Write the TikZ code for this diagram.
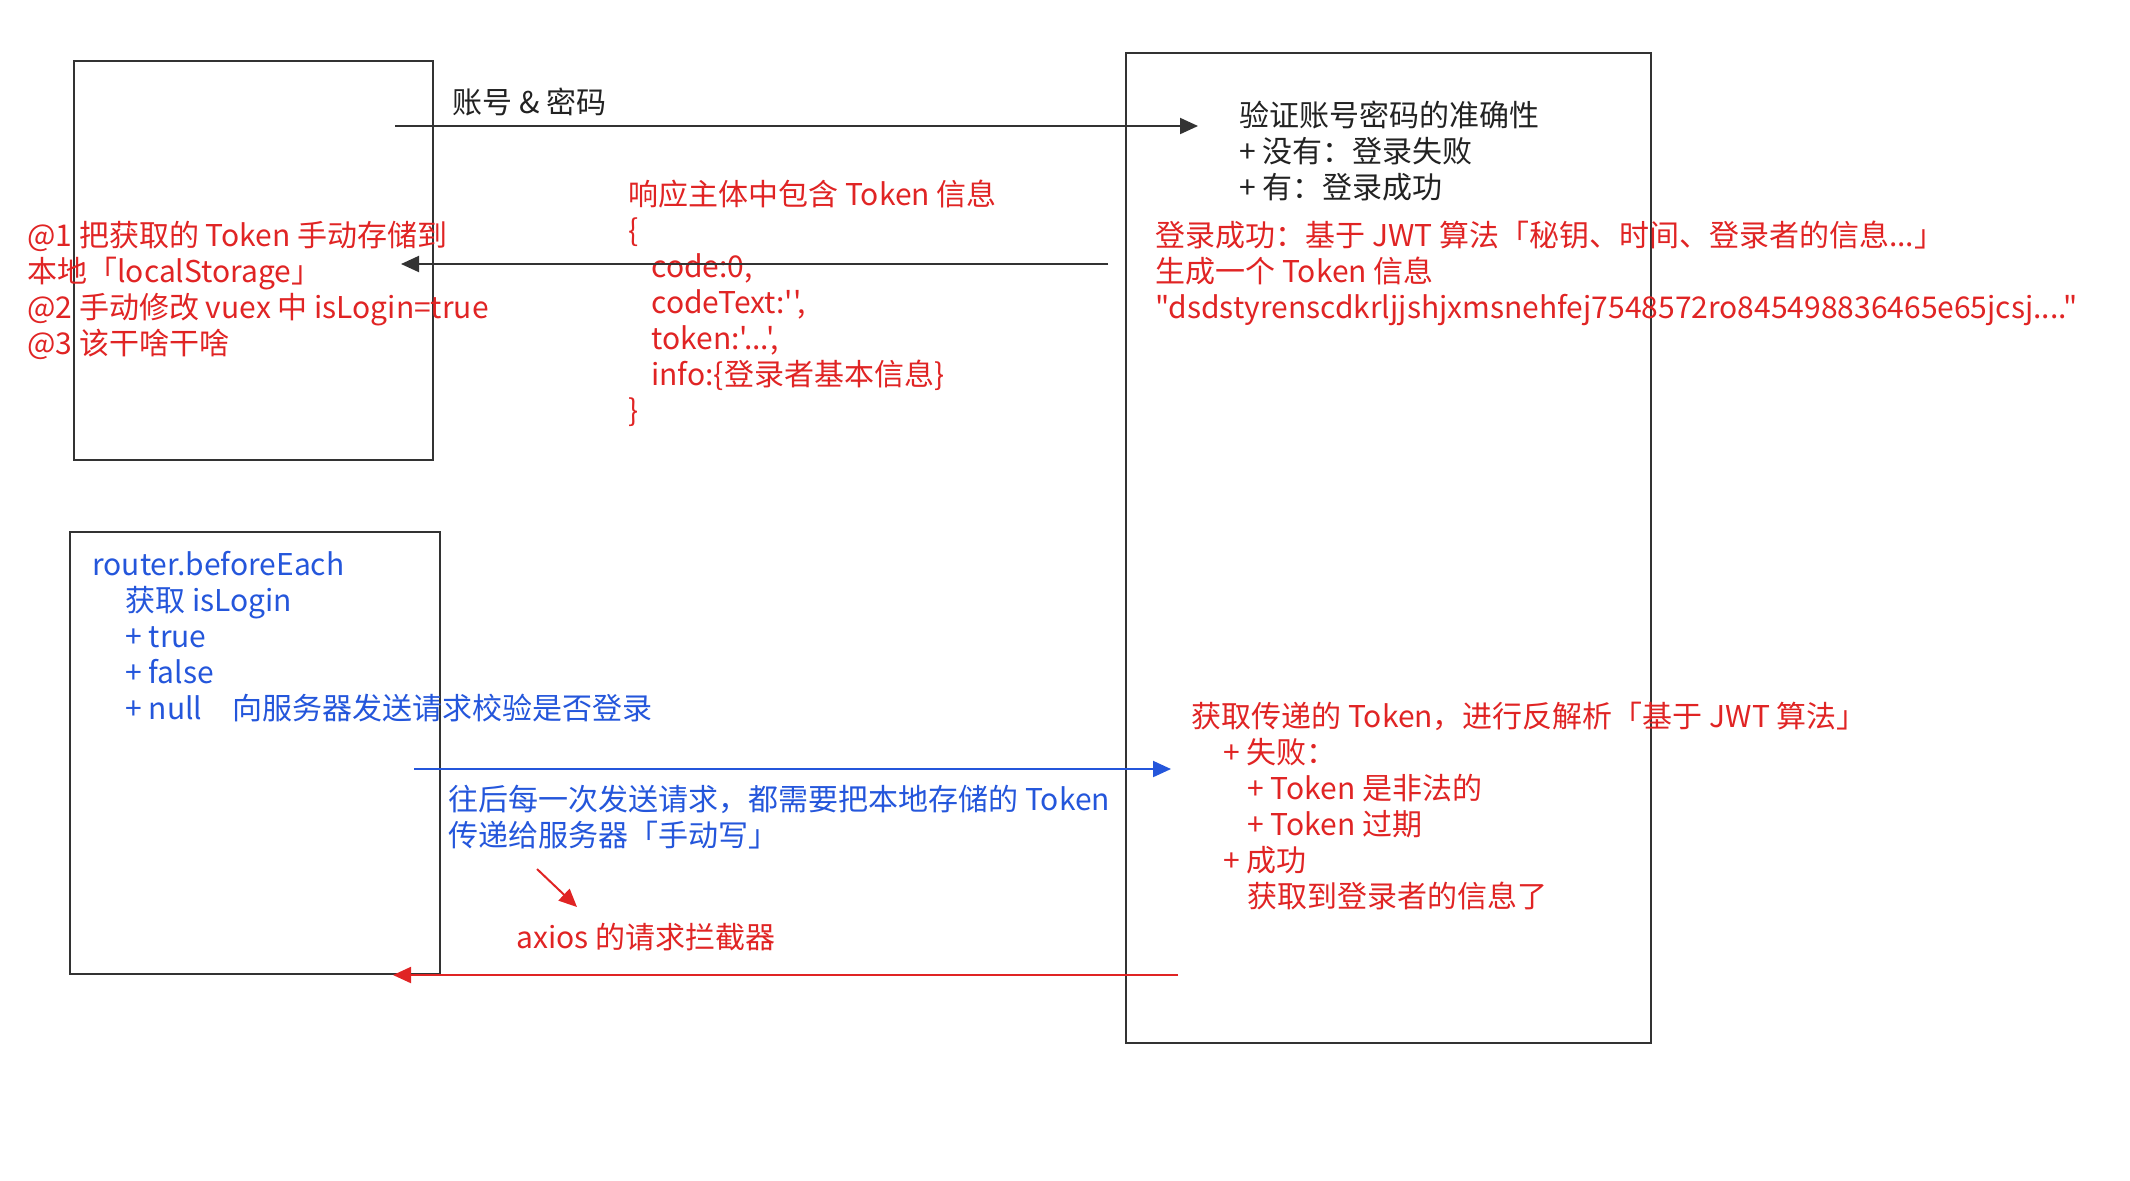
\documentclass[tikz,border=0pt]{standalone}
\usepackage{fontspec}
\setmainfont{Noto Sans CJK SC}[Ligatures=TeXOff]
\usetikzlibrary{arrows.meta}
\definecolor{rd}{HTML}{E02424}
\definecolor{bl}{HTML}{2456DB}
\definecolor{ln}{HTML}{333333}
\definecolor{tx}{HTML}{222222}
\begin{document}
\begin{tikzpicture}[x=0.5pt,y=-0.5pt,
 box/.style={draw=ln,line width=0.9pt,inner sep=0pt,anchor=north west},
 txt/.style={inner sep=0pt,anchor=north west,align=left,font=\fontsize{15}{18}\selectfont,execute at begin node=\strut},
 conn/.style={line width=1pt,-{Triangle[length=9pt,width=8pt]}},
]
\useasboundingbox (0,0) rectangle (2130,1180);
% boxes
\node[box,minimum width=179.5pt,minimum height=199.5pt] (client1) at (73,60) {};
\node[box,minimum width=262.5pt,minimum height=495pt] (server) at (1125,52) {};
\node[box,minimum width=185pt,minimum height=221pt] (client2) at (69,531) {};
% texts
\node[txt,text=tx] (acct) at (452,88) {账号 \& 密码};
\node[txt,text=tx] (verify) at (1239,101) {验证账号密码的准确性\\+ 没有：登录失败\\+ 有：登录成功};
\node[txt,text=rd] (resp) at (628,180) {响应主体中包含 Token 信息\\\{\\\hspace*{11.5pt}code:0,\\\hspace*{11.5pt}codeText:'',\\\hspace*{11.5pt}token:'...',\\\hspace*{11.5pt}info:\{登录者基本信息\}\\\}};
\node[txt,text=rd] (store) at (27,221) {@1 把获取的 Token 手动存储到\\本地「localStorage」\\@2 手动修改 vuex 中 isLogin=true\\@3 该干啥干啥};
\node[txt,text=rd] (gen) at (1155,221) {登录成功：基于 JWT 算法「秘钥、时间、登录者的信息...」\\生成一个 Token 信息\\"dsdstyrenscdkrljjshjxmsnehfej7548572ro845498836465e65jcsj...."};
\node[txt,text=bl] (router) at (92,551) {router.beforeEach\\\hspace*{16.5pt}获取 isLogin\\\hspace*{16.5pt}+ true\\\hspace*{16.5pt}+ false\\\hspace*{16.5pt}\makebox[53.5pt][l]{+ null}向服务器发送请求校验是否登录};
\node[txt,text=bl] (every) at (448,785) {往后每一次发送请求，都需要把本地存储的 Token\\传递给服务器「手动写」};
\node[txt,text=rd] (axios) at (516,923) {axios 的请求拦截器};
\node[txt,text=rd] (parse) at (1191,702) {获取传递的 Token，进行反解析「基于 JWT 算法」\\\hspace*{16pt}+ 失败：\\\hspace*{28pt}+ Token 是非法的\\\hspace*{28pt}+ Token 过期\\\hspace*{16pt}+ 成功\\\hspace*{28pt}获取到登录者的信息了};
% connector ends
\coordinate (a1s) at (395,126);
\coordinate (a1e) at (1198,126);
\coordinate (a2s) at (1108,264);
\coordinate (a2e) at (401,264);
\coordinate (b1s) at (414,769);
\coordinate (b1e) at (1171,769);
\coordinate (r1s) at (1178,975);
\coordinate (r1e) at (393,975);
\coordinate (r2s) at (537,869);
\coordinate (r2e) at (577,907);
% connectors
\draw[conn,draw=ln,fill=tx] (a1s) -- (a1e);
\draw[conn,draw=ln,fill=tx] (a2s) -- (a2e);
\draw[conn,draw=bl,fill=bl] (b1s) -- (b1e);
\draw[conn,draw=rd,fill=rd] (r1s) -- (r1e);
\draw[conn,draw=rd,fill=rd] (r2s) -- (r2e);
\end{tikzpicture}
\end{document}
